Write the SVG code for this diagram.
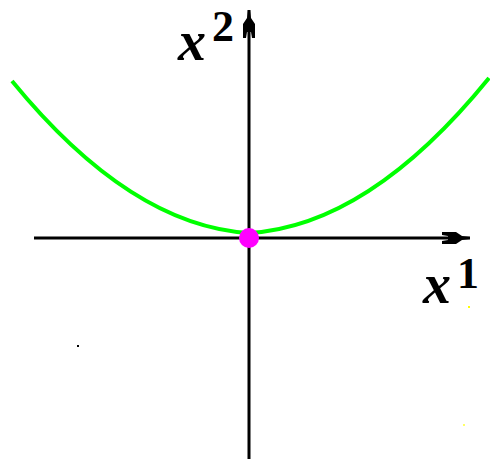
<svg xmlns="http://www.w3.org/2000/svg" width="490" height="459" viewBox="0 0 490 459">
<style>
.ax{stroke:#000;stroke-width:3;fill:none}
.lbl{font-family:"Liberation Serif",serif;font-style:italic;font-weight:bold;fill:#000}
.num{font-family:"Liberation Serif",serif;font-weight:bold;fill:#000}
</style>
<defs>
<marker id="ah" viewBox="-30 -8 32 16" refX="0" refY="0" markerWidth="32" markerHeight="16" markerUnits="userSpaceOnUse" orient="auto">
<path d="M0,-1 L0,1 L-8,2 L-14,6 L-28,6 L-28,3 L-22,2 L-22,-2 L-28,-3 L-28,-6 L-14,-6 L-8,-2 Z" fill="#000"/>
</marker>
</defs>
<rect width="490" height="459" fill="#fff"/>
<g id="connectors">
<line class="ax" x1="34" y1="238" x2="470" y2="238" marker-end="url(#ah)"/>
<line class="ax" x1="249" y1="459" x2="249" y2="10" marker-end="url(#ah)"/>
</g>
<g id="curve">
<path d="M12,81 Q130.5,225.85 249,233 Q369,225.8 489,78" stroke="#00ff00" stroke-width="4" fill="none"/>
</g>
<g id="origin">
<circle cx="249" cy="238" r="10" fill="#ff00ff"/>
</g>
<g id="label-x2">
<text class="lbl" x="178" y="60" font-size="56">x</text>
<text class="num" x="212" y="41" font-size="44">2</text>
</g>
<g id="label-x1">
<text class="lbl" x="423" y="303" font-size="56">x</text>
<text class="num" x="457" y="288" font-size="44">1</text>
</g>
<rect x="77" y="345" width="2" height="2" fill="#000"/>
<rect x="468" y="306" width="2" height="2" fill="#ffff00"/>
<rect x="463" y="424" width="2" height="2" fill="#ffff66"/>
</svg>
